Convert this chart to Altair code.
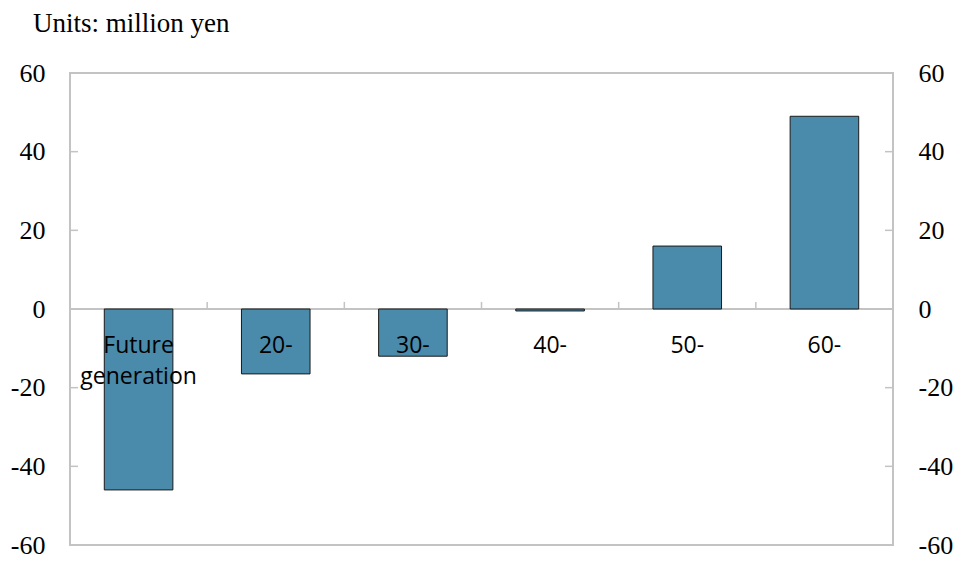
import altair as alt
import pandas as pd

categories = ["Future generation", "20-", "30-", "40-", "50-", "60-"]
labels = ["Future\ngeneration", "20-", "30-", "40-", "50-", "60-"]
values = [-46, -16.5, -12, -0.5, 16, 49]
y_ticks = [-60, -40, -20, 0, 20, 40, 60]

df = pd.DataFrame({"cat": categories, "label": labels, "value": values})
ticks_df = pd.DataFrame({"t": y_ticks})
bounds_df = pd.DataFrame({"cat": categories[:-1]})

W, H = 823, 472
STEP = W / len(categories)
FRAME = "#c3c3c3"
SERIF = "Liberation Serif, Times New Roman, serif"


def value_axis(orient):
    return alt.Axis(
        orient=orient, values=y_ticks, title=None, domain=False, ticks=False,
        grid=False, labelFont=SERIF, labelFontSize=26, labelColor="black",
        labelPadding=25, labelExpr="'' + datum.value",
    )


x_scale = alt.Scale(domain=categories, paddingInner=0.5, paddingOuter=0.25)
y_scale = alt.Scale(domain=[-60, 60], nice=False, zero=False)

base = alt.Chart(df)

bars = base.mark_bar(color="#4a8aab", stroke="#1a1a1a", strokeWidth=1).encode(
    x=alt.X("cat:N", scale=x_scale, axis=None, sort=categories),
    y=alt.Y("value:Q", scale=y_scale, axis=value_axis("left")),
    y2=alt.Y2(datum=0),
)

zero_line = base.mark_rule(color=FRAME, strokeWidth=2).encode(
    y=alt.Y(datum=0, scale=y_scale, axis=None),
)

# small separators between categories, sitting on the zero line
bounds = alt.Chart(bounds_df).mark_rule(
    color=FRAME, strokeWidth=1.5, xOffset=STEP * 0.25
).encode(
    x=alt.X("cat:N", scale=x_scale, axis=None, sort=categories, bandPosition=1),
    y=alt.Y(datum=0, scale=y_scale, axis=None),
    y2=alt.Y2(datum=1.8),
)

left_ticks = alt.Chart(ticks_df).mark_rule(color=FRAME, strokeWidth=1.5).encode(
    x=alt.value(0), x2=alt.value(8),
    y=alt.Y("t:Q", scale=y_scale, axis=None),
)

right_ticks = alt.Chart(ticks_df).mark_rule(color=FRAME, strokeWidth=1.5).encode(
    x=alt.value(W - 8), x2=alt.value(W),
    y=alt.Y("t:Q", scale=y_scale, axis=value_axis("right")),
)

cat_text = base.mark_text(
    font="Open Sans", fontSize=23, color="black", baseline="top",
    align="center", dy=26, lineBreak="\n", lineHeight=31,
).encode(
    x=alt.X("cat:N", scale=x_scale, axis=None, sort=categories, bandPosition=0.5),
    y=alt.Y(datum=0, scale=y_scale, axis=None),
    text="label:N",
)

chart = (
    alt.layer(zero_line, bars, bounds, left_ticks, right_ticks, cat_text)
    .resolve_axis(y="independent")
    .properties(
        width=W,
        height=H,
        background="white",
        padding={"left": 70, "top": 73, "right": 69, "bottom": 16},
        autosize=alt.AutoSizeParams(type="none"),
        title=alt.TitleParams(
            "Units: million yen", anchor="start", frame="group", dx=-37,
            offset=22, font=SERIF, fontSize=27, fontWeight="normal", color="black",
        ),
    )
    .configure_view(stroke=FRAME, strokeWidth=2)
)

chart.save("out.html", embed_options={"renderer": "svg", "actions": False})
